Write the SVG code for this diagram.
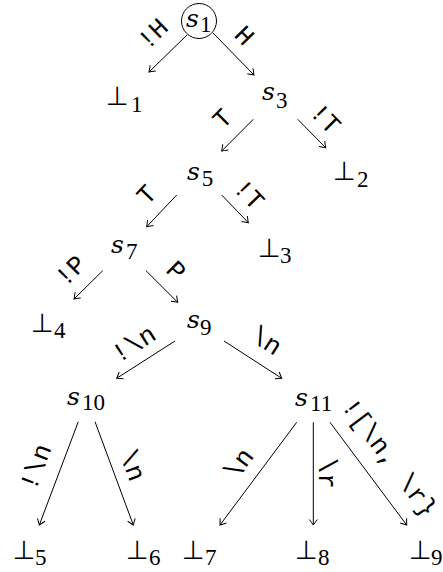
<svg xmlns="http://www.w3.org/2000/svg" width="443" height="572" viewBox="0 0 443 572">
<style>
.s{font-family:"DejaVu Serif","Liberation Serif",serif;font-style:italic;font-size:25px;fill:#000}
.b{font-family:"DejaVu Sans","Liberation Sans",sans-serif;font-size:26px;fill:#000}
.d{font-family:"Liberation Serif","DejaVu Serif",serif;font-style:normal;font-size:23px;fill:#000}
.l{font-family:"Liberation Mono","DejaVu Sans Mono",monospace;font-size:26px;fill:#000;text-anchor:middle}
.e{stroke:#000;stroke-width:1;fill:none;marker-end:url(#arr)}
</style>
<defs>
<marker id="arr" markerUnits="userSpaceOnUse" orient="auto" refX="0" refY="0" markerWidth="12" markerHeight="12" viewBox="-7 -6 8 12" overflow="visible">
<path d="M-5.5,-4 Q-1.5,-1 0,0 Q-1.5,1 -5.5,4" fill="none" stroke="#000" stroke-width="1"/>
</marker>
</defs>
<rect width="443" height="572" fill="#fff"/>
<g id="connectors">
<path class="e" d="M187,35 L149,72"/>
<path class="e" d="M213,33 L254,75"/>
<path class="e" d="M253.3,119.3 L221.7,151"/>
<path class="e" d="M297.7,119.3 L325.7,147.7"/>
<path class="e" d="M176.7,195 L146.7,226.7"/>
<path class="e" d="M221.7,195 L248.3,222.7"/>
<path class="e" d="M102.7,270.7 L74,299"/>
<path class="e" d="M146,270.7 L177.7,302.3"/>
<path class="e" d="M175,341 L116.7,378.3"/>
<path class="e" d="M224,341 L281.7,378.3"/>
<path class="e" d="M78.3,421.7 L39.3,525"/>
<path class="e" d="M95,421.7 L133.3,525"/>
<path class="e" d="M296.7,422.3 L220,525"/>
<path class="e" d="M313.3,422.3 L313.3,525"/>
<path class="e" d="M330,422.3 L406.7,525"/>
<g id="labels">
<text class="l" transform="translate(152.3,33.3) rotate(-44)" dy="0.35em">!H</text>
<text class="l" transform="translate(245,35) rotate(45.7)" dy="0.35em">H</text>
<text class="l" transform="translate(221.7,118) rotate(-45)" dy="0.35em">T</text>
<text class="l" transform="translate(326,118) rotate(45.4)" dy="0.35em">!T</text>
<text class="l" transform="translate(146,194) rotate(-46.6)" dy="0.35em">T</text>
<text class="l" transform="translate(249.5,194) rotate(46.2)" dy="0.35em">!T</text>
<text class="l" transform="translate(70,270) rotate(-44.7)" dy="0.35em">!P</text>
<text class="l" transform="translate(176.7,270) rotate(45)" dy="0.35em">P</text>
<text class="l" transform="translate(133.3,343.3) rotate(-32.6)" dy="0.35em">!\n</text>
<text class="l" transform="translate(266.7,340) rotate(32.9)" dy="0.35em">\n</text>
<text class="l" transform="translate(35,466.7) rotate(-69.3)" dy="0.35em">!\n</text>
<text class="l" transform="translate(133.3,465) rotate(69.7)" dy="0.35em">\n</text>
<text class="l" transform="translate(238.3,463.3) rotate(-53.2)" dy="0.35em">\n</text>
<text class="l" transform="translate(328.3,473.3) rotate(90)" dy="0.35em">\r</text>
<text class="l" transform="translate(390,457) rotate(53.2)" dy="0.35em">![\n, \r}</text>
</g>
</g>
<g id="s1"><circle cx="199" cy="21" r="17.5" fill="none" stroke="#000" stroke-width="1"/><text class="s" x="186" y="27">s</text><text class="d" x="200" y="32">1</text></g>
<g id="b1"><text class="b" x="106" y="105">⊥</text><text class="d" x="131" y="112">1</text></g>
<g id="s3"><text class="s" x="262" y="100">s</text><text class="d" x="276" y="108">3</text></g>
<g id="s5"><text class="s" x="187" y="180">s</text><text class="d" x="201.7" y="186">5</text></g>
<g id="b2"><text class="b" x="333" y="180">⊥</text><text class="d" x="357" y="187">2</text></g>
<g id="s7"><text class="s" x="111" y="253">s</text><text class="d" x="126" y="259">7</text></g>
<g id="b3"><text class="b" x="258" y="257">⊥</text><text class="d" x="280" y="263">3</text></g>
<g id="b4"><text class="b" x="31" y="332">⊥</text><text class="d" x="54" y="338">4</text></g>
<g id="s9"><text class="s" x="187" y="328">s</text><text class="d" x="200" y="335">9</text></g>
<g id="s10"><text class="s" x="67" y="405">s</text><text class="d" x="82" y="410">10</text></g>
<g id="s11"><text class="s" x="295" y="406">s</text><text class="d" x="310" y="411">11</text></g>
<g id="b5"><text class="b" x="12.7" y="559">⊥</text><text class="d" x="35" y="565">5</text></g>
<g id="b6"><text class="b" x="126" y="559">⊥</text><text class="d" x="149" y="565">6</text></g>
<g id="b7"><text class="b" x="182" y="559">⊥</text><text class="d" x="205" y="565">7</text></g>
<g id="b8"><text class="b" x="295" y="559">⊥</text><text class="d" x="318" y="565">8</text></g>
<g id="b9"><text class="b" x="409" y="559">⊥</text><text class="d" x="431" y="565">9</text></g>
</svg>
